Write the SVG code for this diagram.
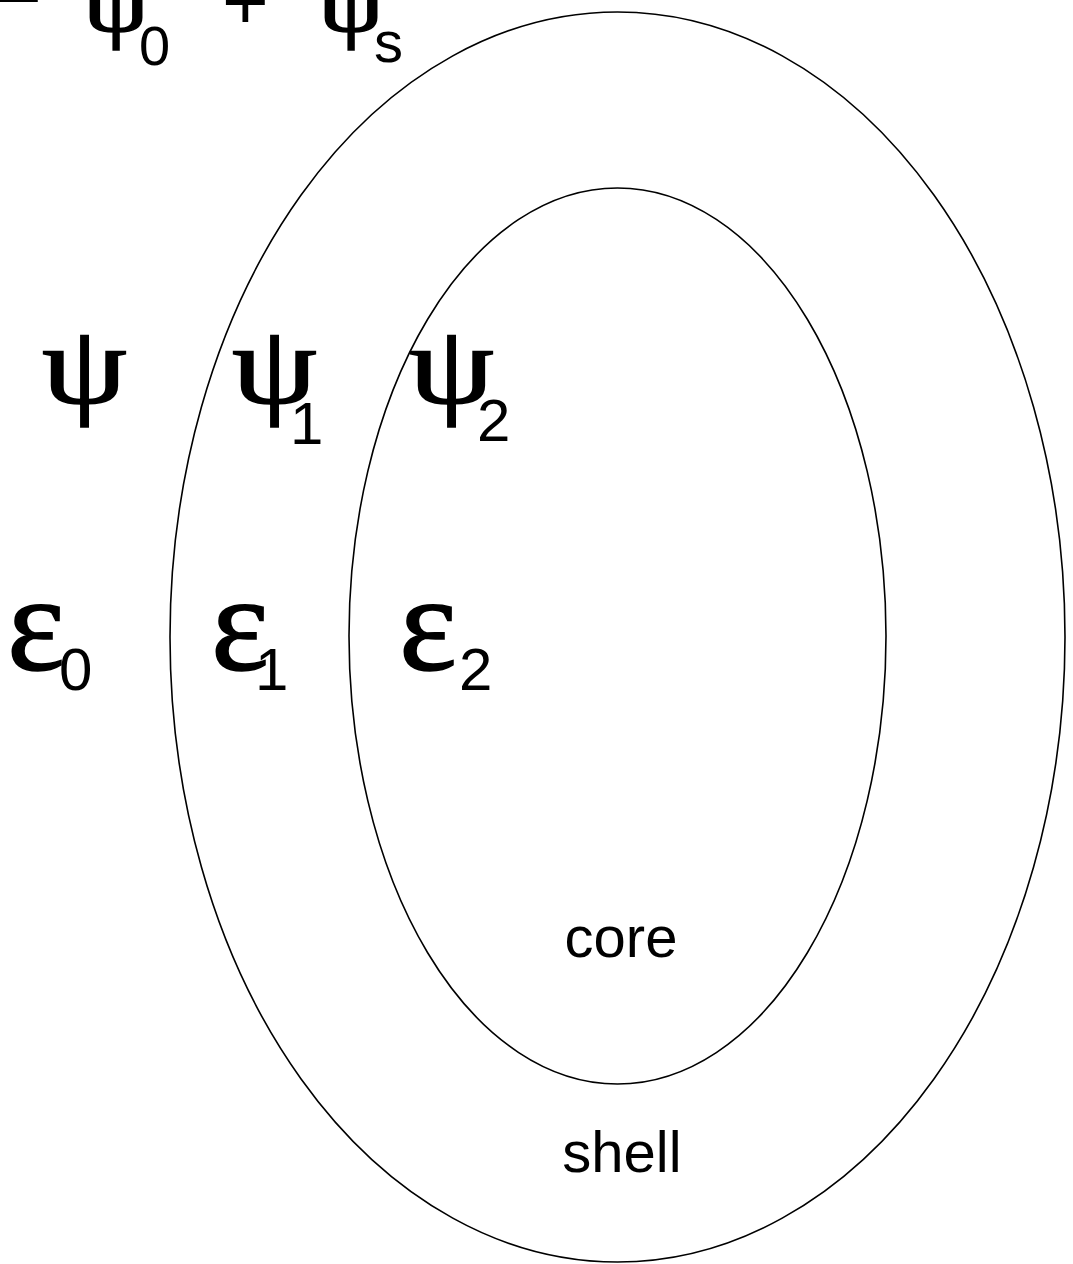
<svg xmlns="http://www.w3.org/2000/svg" width="1073" height="1264" viewBox="0 0 1073 1264">
<style>
.ring{fill:none;stroke:#000;stroke-width:1.6}
.gr{font-family:"Liberation Serif","Times New Roman",serif;fill:#000;stroke:#000;stroke-width:1.6}
.sub{font-family:"Liberation Sans",Arial,sans-serif;fill:#000}
.lbl{font-family:"Liberation Sans",Arial,sans-serif;fill:#000;font-size:58px;text-anchor:middle}
</style>
<rect width="1073" height="1264" fill="#fff"/>
<g id="shell">
<ellipse class="ring" cx="617.5" cy="637" rx="447.5" ry="625"/>
<text class="lbl" x="622" y="1172">shell</text>
</g>
<g id="core">
<ellipse class="ring" cx="617.5" cy="636" rx="268.5" ry="448"/>
<text class="lbl" x="621" y="957">core</text>
</g>
<g id="equation">
<text class="sub" x="-5" y="15" font-size="80">=</text>
<text class="gr" transform="translate(83,31) scale(1.2,1)" font-size="88">ψ</text>
<text class="sub" x="139" y="65" font-size="56">0</text>
<text class="sub" x="222" y="29" font-size="80">+</text>
<text class="gr" transform="translate(318,31) scale(1.2,1)" font-size="88">ψ</text>
<text class="sub" x="374" y="62" font-size="58">s</text>
</g>
<g id="potentials">
<text class="gr" transform="translate(42,403) scale(1.2,1)" font-size="113">ψ</text>
<text class="gr" transform="translate(232,403) scale(1.2,1)" font-size="113">ψ</text>
<text class="sub" x="290" y="444" font-size="60">1</text>
<text class="gr" transform="translate(409,403) scale(1.2,1)" font-size="113">ψ</text>
<text class="sub" x="477" y="441" font-size="60">2</text>
</g>
<g id="permittivities">
<text class="gr" x="7" y="670" font-size="138">ε</text>
<text class="sub" x="59" y="690" font-size="60">0</text>
<text class="gr" x="211" y="670" font-size="138">ε</text>
<text class="sub" x="255" y="690" font-size="60">1</text>
<text class="gr" x="399" y="670" font-size="138">ε</text>
<text class="sub" x="459" y="690" font-size="60">2</text>
</g>
</svg>
